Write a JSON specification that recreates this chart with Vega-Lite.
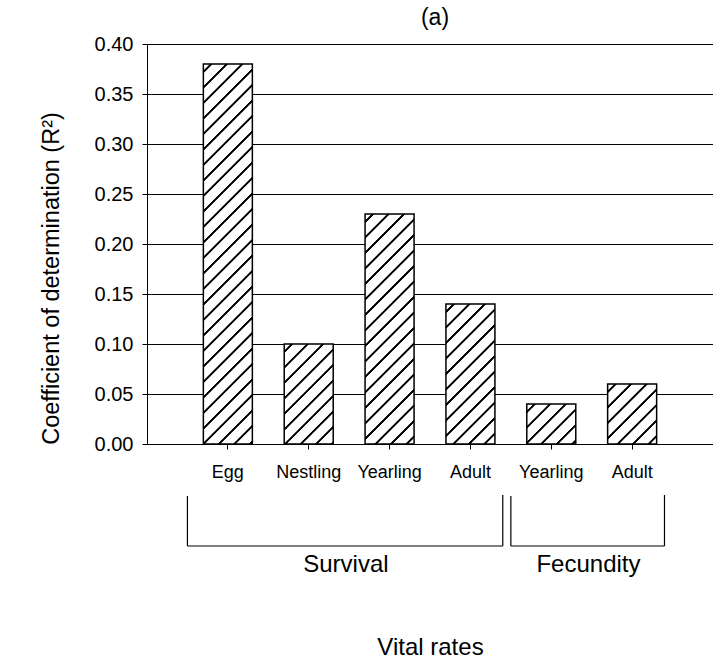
{
  "$schema": "https://vega.github.io/schema/vega-lite/v6.json",
  "autosize": "none",
  "padding": {"left": 147, "top": 44, "right": 0, "bottom": 214},
  "width": 566,
  "height": 400,
  "background": "white",
  "config": {
    "view": {"stroke": null},
    "font": "Liberation Sans"
  },
  "title": {"text": "(a)", "fontSize": 23, "font": "Liberation Sans", "fontWeight": "normal", "color": "black", "anchor": "middle", "frame": "group", "offset": 16, "baseline": "alphabetic", "dx": 5, "dy": 30},
  "params": [
    {"name": "hatch", "value": [
      {"offset": 0.0124, "color": "#fff"}, {"offset": 0.0140, "color": "#000"}, {"offset": 0.0180, "color": "#000"}, {"offset": 0.0196, "color": "#fff"},
      {"offset": 0.0434, "color": "#fff"}, {"offset": 0.0450, "color": "#000"}, {"offset": 0.0490, "color": "#000"}, {"offset": 0.0506, "color": "#fff"},
      {"offset": 0.0744, "color": "#fff"}, {"offset": 0.0760, "color": "#000"}, {"offset": 0.0800, "color": "#000"}, {"offset": 0.0816, "color": "#fff"},
      {"offset": 0.1054, "color": "#fff"}, {"offset": 0.1070, "color": "#000"}, {"offset": 0.1110, "color": "#000"}, {"offset": 0.1126, "color": "#fff"},
      {"offset": 0.1364, "color": "#fff"}, {"offset": 0.1380, "color": "#000"}, {"offset": 0.1420, "color": "#000"}, {"offset": 0.1436, "color": "#fff"},
      {"offset": 0.1674, "color": "#fff"}, {"offset": 0.1690, "color": "#000"}, {"offset": 0.1730, "color": "#000"}, {"offset": 0.1746, "color": "#fff"},
      {"offset": 0.1984, "color": "#fff"}, {"offset": 0.2000, "color": "#000"}, {"offset": 0.2040, "color": "#000"}, {"offset": 0.2056, "color": "#fff"},
      {"offset": 0.2294, "color": "#fff"}, {"offset": 0.2310, "color": "#000"}, {"offset": 0.2350, "color": "#000"}, {"offset": 0.2366, "color": "#fff"},
      {"offset": 0.2604, "color": "#fff"}, {"offset": 0.2620, "color": "#000"}, {"offset": 0.2660, "color": "#000"}, {"offset": 0.2676, "color": "#fff"},
      {"offset": 0.2914, "color": "#fff"}, {"offset": 0.2930, "color": "#000"}, {"offset": 0.2970, "color": "#000"}, {"offset": 0.2986, "color": "#fff"},
      {"offset": 0.3224, "color": "#fff"}, {"offset": 0.3240, "color": "#000"}, {"offset": 0.3280, "color": "#000"}, {"offset": 0.3296, "color": "#fff"},
      {"offset": 0.3534, "color": "#fff"}, {"offset": 0.3550, "color": "#000"}, {"offset": 0.3590, "color": "#000"}, {"offset": 0.3606, "color": "#fff"},
      {"offset": 0.3844, "color": "#fff"}, {"offset": 0.3860, "color": "#000"}, {"offset": 0.3900, "color": "#000"}, {"offset": 0.3916, "color": "#fff"},
      {"offset": 0.4154, "color": "#fff"}, {"offset": 0.4170, "color": "#000"}, {"offset": 0.4210, "color": "#000"}, {"offset": 0.4226, "color": "#fff"},
      {"offset": 0.4464, "color": "#fff"}, {"offset": 0.4480, "color": "#000"}, {"offset": 0.4520, "color": "#000"}, {"offset": 0.4536, "color": "#fff"},
      {"offset": 0.4774, "color": "#fff"}, {"offset": 0.4790, "color": "#000"}, {"offset": 0.4830, "color": "#000"}, {"offset": 0.4846, "color": "#fff"},
      {"offset": 0.5084, "color": "#fff"}, {"offset": 0.5100, "color": "#000"}, {"offset": 0.5140, "color": "#000"}, {"offset": 0.5156, "color": "#fff"},
      {"offset": 0.5394, "color": "#fff"}, {"offset": 0.5410, "color": "#000"}, {"offset": 0.5450, "color": "#000"}, {"offset": 0.5466, "color": "#fff"},
      {"offset": 0.5704, "color": "#fff"}, {"offset": 0.5720, "color": "#000"}, {"offset": 0.5760, "color": "#000"}, {"offset": 0.5776, "color": "#fff"},
      {"offset": 0.6014, "color": "#fff"}, {"offset": 0.6030, "color": "#000"}, {"offset": 0.6070, "color": "#000"}, {"offset": 0.6086, "color": "#fff"},
      {"offset": 0.6324, "color": "#fff"}, {"offset": 0.6340, "color": "#000"}, {"offset": 0.6380, "color": "#000"}, {"offset": 0.6396, "color": "#fff"},
      {"offset": 0.6634, "color": "#fff"}, {"offset": 0.6650, "color": "#000"}, {"offset": 0.6690, "color": "#000"}, {"offset": 0.6706, "color": "#fff"},
      {"offset": 0.6944, "color": "#fff"}, {"offset": 0.6960, "color": "#000"}, {"offset": 0.7000, "color": "#000"}, {"offset": 0.7016, "color": "#fff"},
      {"offset": 0.7254, "color": "#fff"}, {"offset": 0.7270, "color": "#000"}, {"offset": 0.7310, "color": "#000"}, {"offset": 0.7326, "color": "#fff"},
      {"offset": 0.7564, "color": "#fff"}, {"offset": 0.7580, "color": "#000"}, {"offset": 0.7620, "color": "#000"}, {"offset": 0.7636, "color": "#fff"},
      {"offset": 0.7874, "color": "#fff"}, {"offset": 0.7890, "color": "#000"}, {"offset": 0.7930, "color": "#000"}, {"offset": 0.7946, "color": "#fff"},
      {"offset": 0.8184, "color": "#fff"}, {"offset": 0.8200, "color": "#000"}, {"offset": 0.8240, "color": "#000"}, {"offset": 0.8256, "color": "#fff"},
      {"offset": 0.8494, "color": "#fff"}, {"offset": 0.8510, "color": "#000"}, {"offset": 0.8550, "color": "#000"}, {"offset": 0.8566, "color": "#fff"}
    ]}
  ],
  "datasets": {
    "rates": [
      {"group": "Survival", "rate": "Egg", "key": "Survival Egg", "r2": 0.38},
      {"group": "Survival", "rate": "Nestling", "key": "Survival Nestling", "r2": 0.10},
      {"group": "Survival", "rate": "Yearling", "key": "Survival Yearling", "r2": 0.23},
      {"group": "Survival", "rate": "Adult", "key": "Survival Adult", "r2": 0.14},
      {"group": "Fecundity", "rate": "Yearling", "key": "Fecundity Yearling", "r2": 0.04},
      {"group": "Fecundity", "rate": "Adult", "key": "Fecundity Adult", "r2": 0.06}
    ],
    "brackets": [
      {"group": "Survival", "from": "Survival Egg", "to": "Survival Adult", "mid": "Survival Yearling"},
      {"group": "Fecundity", "from": "Fecundity Yearling", "to": "Fecundity Adult", "mid": "Fecundity Adult"}
    ]
  },
  "layer": [
    {
      "data": {"name": "rates"},
      "mark": {"type": "bar", "width": 49, "stroke": "black", "strokeWidth": 1.5},
      "encoding": {
        "x": {
          "field": "key", "type": "nominal", "sort": null,
          "scale": {"type": "band", "domain": ["Survival Egg", "Survival Nestling", "Survival Yearling", "Survival Adult", "Fecundity Yearling", "Fecundity Adult"], "paddingInner": 0, "paddingOuter": 0.5},
          "axis": {
            "title": "Vital rates", "titleFontSize": 24, "titleFont": "Liberation Sans", "titleFontWeight": "normal", "titleColor": "black",
            "titleBaseline": "alphabetic", "titleY": 210, "titleX": 283, "titleAlign": "center",
            "labelExpr": "substring(datum.label, indexof(datum.label, ' ') + 1)",
            "labelAngle": 0, "labelFontSize": 18, "labelFont": "Liberation Sans", "labelColor": "black",
            "labelBaseline": "alphabetic", "labelPadding": 28,
            "tickSize": 5, "tickColor": "black", "domainColor": "black", "grid": false
          }
        },
        "y": {
          "field": "r2", "type": "quantitative",
          "scale": {"domain": [0, 0.4], "nice": false, "zero": true},
          "axis": {
            "title": "Coefficient of determination (R²)", "titleFontSize": 23.5, "titleFont": "Liberation Sans", "titleFontWeight": "normal", "titleColor": "black",
            "titleAngle": -90, "titleBaseline": "alphabetic", "titleAlign": "center", "titleX": -89, "titleY": 234,
            "values": [0, 0.05, 0.1, 0.15, 0.2, 0.25, 0.3, 0.35, 0.4], "format": ".2f",
            "labelFontSize": 20, "labelFont": "Liberation Sans", "labelColor": "black", "labelPadding": 9,
            "tickSize": 5, "tickColor": "black", "domainColor": "black",
            "grid": true, "gridColor": "black", "gridWidth": 1, "gridOpacity": 1
          }
        },
        "fill": {"value": {"expr": "{gradient: 'linear', x1: 0, y1: 0, x2: 500*49/(2401+pow(scale('y',0)-scale('y',datum.r2),2)), y2: 500*(scale('y',0)-scale('y',datum.r2))/(2401+pow(scale('y',0)-scale('y',datum.r2),2)), stops: hatch}"}}
      }
    },
    {
      "data": {"name": "brackets"},
      "mark": {"type": "rule", "color": "black", "strokeWidth": 1.2},
      "encoding": {
        "x": {"field": "from", "type": "nominal", "bandPosition": 0, "scale": {"type": "band"}},
        "y": {"datum": -0.052, "type": "quantitative"},
        "y2": {"datum": -0.102}
      }
    },
    {
      "data": {"name": "brackets"},
      "mark": {"type": "rule", "color": "black", "strokeWidth": 1.2},
      "encoding": {
        "x": {"field": "to", "type": "nominal", "bandPosition": 0.9, "scale": {"type": "band"}},
        "y": {"datum": -0.051, "type": "quantitative"},
        "y2": {"datum": -0.102}
      }
    },
    {
      "data": {"name": "brackets"},
      "mark": {"type": "rule", "color": "black", "strokeWidth": 1.2},
      "encoding": {
        "x": {"field": "from", "type": "nominal", "bandPosition": 0, "scale": {"type": "band"}},
        "x2": {"field": "to", "bandPosition": 0.9},
        "y": {"datum": -0.102, "type": "quantitative"}
      }
    },
    {
      "data": {"name": "brackets"},
      "mark": {"type": "text", "fontSize": 24, "font": "Liberation Sans", "color": "black", "baseline": "alphabetic", "align": "center"},
      "encoding": {
        "x": {"field": "mid", "type": "nominal", "bandPosition": -0.04, "scale": {"type": "band"}},
        "y": {"datum": -0.128, "type": "quantitative"},
        "text": {"field": "group"}
      }
    }
  ]
}
